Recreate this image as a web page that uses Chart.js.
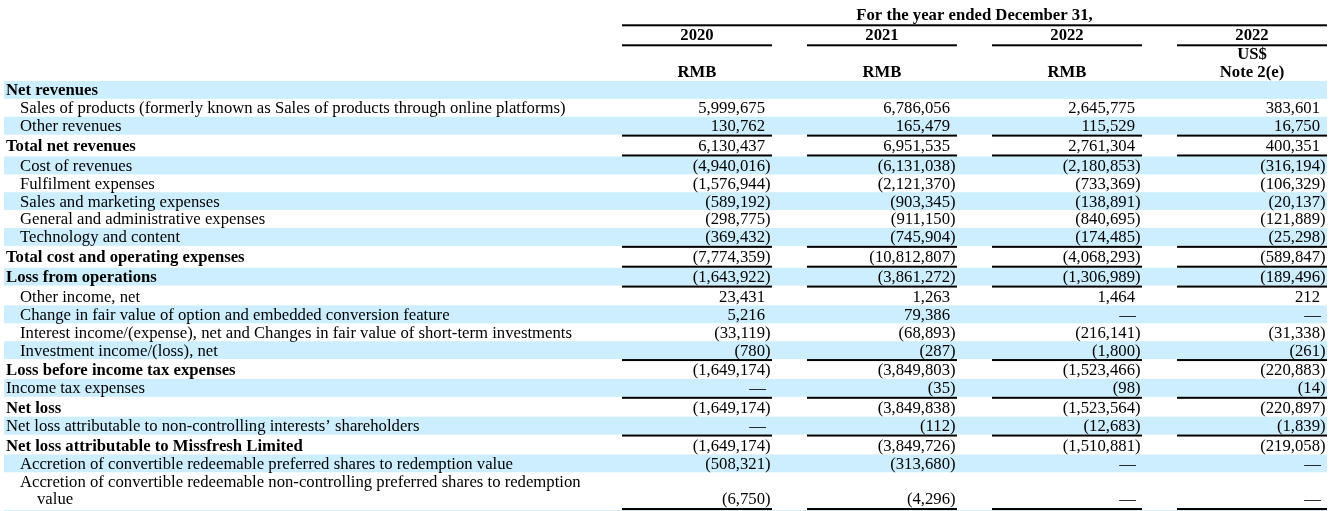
<!DOCTYPE html>
<html>
<head>
<meta charset="utf-8">
<script src="https://cdn.jsdelivr.net/npm/chart.js@4"></script>
<style>
  body { margin: 0; background: #fff; }
  canvas { display: block; }
</style>
</head>
<body>
<canvas id="table" width="1336" height="511"></canvas>
<script>
// Consolidated statements of operations (in thousands)
// 0 is shown as a dash, null means the cell is empty
const rowLabels = [
    'Net revenues',
    'Sales of products (formerly known as Sales of products through online platforms)',
    'Other revenues',
    'Total net revenues',
    'Cost of revenues',
    'Fulfilment expenses',
    'Sales and marketing expenses',
    'General and administrative expenses',
    'Technology and content',
    'Total cost and operating expenses',
    'Loss from operations',
    'Other income, net',
    'Change in fair value of option and embedded conversion feature',
    'Interest income/(expense), net and Changes in fair value of short-term investments',
    'Investment income/(loss), net',
    'Loss before income tax expenses',
    'Income tax expenses',
    'Net loss',
    'Net loss attributable to non-controlling interests\u2019 shareholders',
    'Net loss attributable to Missfresh Limited',
    'Accretion of convertible redeemable preferred shares to redemption value',
    ['Accretion of convertible redeemable non-controlling preferred shares to redemption', 'value']
];

const columnYears = ['2020', '2021', '2022', '2022'];
const columnCurrency = ['RMB', 'RMB', 'RMB', 'Note 2(e)'];
const columnNote = ['', '', '', 'US$'];
const headerTitle = 'For the year ended December 31,';

const values2020 = [null, 5999675, 130762, 6130437, -4940016, -1576944, -589192, -298775, -369432,
    -7774359, -1643922, 23431, 5216, -33119, -780, -1649174, 0, -1649174, 0, -1649174, -508321, -6750];
const values2021 = [null, 6786056, 165479, 6951535, -6131038, -2121370, -903345, -911150, -745904,
    -10812807, -3861272, 1263, 79386, -68893, -287, -3849803, -35, -3849838, -112, -3849726, -313680, -4296];
const values2022 = [null, 2645775, 115529, 2761304, -2180853, -733369, -138891, -840695, -174485,
    -4068293, -1306989, 1464, 0, -216141, -1800, -1523466, -98, -1523564, -12683, -1510881, 0, 0];
const values2022Usd = [null, 383601, 16750, 400351, -316194, -106329, -20137, -121889, -25298,
    -589847, -189496, 212, 0, -31338, -261, -220883, -14, -220897, -1839, -219058, 0, 0];

const columns = [values2020, values2021, values2022, values2022Usd];

// row styling: 'head' = bold flush left, 'item' = indented, 'plain' = flush left regular
const rowKinds = ['head', 'item', 'item', 'head', 'item', 'item', 'item', 'item', 'item', 'head', 'head',
    'item', 'item', 'item', 'item', 'head', 'plain', 'head', 'plain', 'head', 'item', 'item'];
// rows with a rule under their figures
const ruledRows = [2, 3, 8, 9, 10, 14, 16, 18, 21];

// layout
const FONT = "'Liberation Serif', 'Times New Roman', serif";
const FONT_SIZE = 16.7;
const TEXT_DY = 1;            // nudge text down a pixel to sit centred in its band
const BAND = '#cceeff';
const RULE = 0.112;           // rule height in line units (~2px)
const LINE_PX = 17.87;
const HEADER_H = 81;

const lineCount = rowLabels.map(l => Array.isArray(l) ? l.length : 1);
const rowTop = [];
let acc = 0;
rowLabels.forEach((l, i) => {
    rowTop.push(acc);
    acc += lineCount[i] + (ruledRows.includes(i) ? RULE : 0);
});
const yMax = (511 - HEADER_H) / LINE_PX;

function fmt(n) {
    return Math.abs(n).toLocaleString('en-US');
}

function colEdges(x, i) {
    const left = x.getPixelForValue(i);
    const right = x.getPixelForValue(i + 1);
    return { lineLeft: left + 26, lineRight: right - 9, numRight: right - 16 };
}

const tablePlugin = {
    id: 'financialTable',
    beforeDatasetsDraw(chart) {
        const { ctx, scales: { x, y } } = chart;
        const tableRight = colEdges(x, 3).lineRight;
        ctx.save();

        // alternating row bands
        ctx.fillStyle = BAND;
        rowLabels.forEach((l, i) => {
            if (i % 2 !== 0) return;
            const top = y.getPixelForValue(rowTop[i]);
            const bot = y.getPixelForValue(rowTop[i] + lineCount[i]);
            ctx.fillRect(4, top, tableRight - 4, bot - top);
        });
        // next (shaded) row peeking at the bottom
        ctx.fillRect(4, y.getPixelForValue(acc), tableRight - 4, y.getPixelForValue(yMax) - y.getPixelForValue(acc));

        // rules under figures
        ctx.fillStyle = '#000';
        ruledRows.forEach(i => {
            const top = y.getPixelForValue(rowTop[i] + lineCount[i]);
            const bot = y.getPixelForValue(rowTop[i] + lineCount[i] + RULE);
            for (let c = 0; c < columns.length; c++) {
                const e = colEdges(x, c);
                ctx.fillRect(e.lineLeft, top, e.lineRight - e.lineLeft, bot - top);
            }
        });

        // row labels
        ctx.textBaseline = 'middle';
        ctx.textAlign = 'left';
        rowLabels.forEach((l, i) => {
            const kind = rowKinds[i];
            ctx.font = (kind === 'head' ? 'bold ' : '') + FONT_SIZE + 'px ' + FONT;
            const indent = kind === 'item' ? 20 : 6;
            const lines = Array.isArray(l) ? l : [l];
            lines.forEach((t, k) => {
                const ty = y.getPixelForValue(rowTop[i] + k + 0.5) + TEXT_DY;
                ctx.fillText(t, k === 0 ? indent : indent + 17, ty);
            });
        });

        // column header
        ctx.font = 'bold ' + FONT_SIZE + 'px ' + FONT;
        ctx.textAlign = 'center';
        const first = colEdges(x, 0), last = colEdges(x, 3);
        ctx.fillText(headerTitle, (first.lineLeft + last.lineRight) / 2, 15 + TEXT_DY);
        ctx.fillRect(first.lineLeft, 24.3, last.lineRight - first.lineLeft, 2);
        columnYears.forEach((yr, c) => {
            const e = colEdges(x, c);
            const cx = (e.lineLeft + e.lineRight) / 2;
            ctx.fillText(yr, cx, 35 + TEXT_DY);
            ctx.fillRect(e.lineLeft, 44.3, e.lineRight - e.lineLeft, 2);
            if (columnNote[c]) ctx.fillText(columnNote[c], cx, 54 + TEXT_DY);
            ctx.fillText(columnCurrency[c], cx, 72 + TEXT_DY);
        });
        ctx.restore();
    },
    afterDatasetsDraw(chart) {
        const { ctx } = chart;
        ctx.save();
        ctx.font = FONT_SIZE + 'px ' + FONT;
        ctx.fillStyle = '#000';
        ctx.textBaseline = 'middle';
        chart.data.datasets.forEach((ds, d) => {
            const meta = chart.getDatasetMeta(d);
            meta.data.forEach((pt, i) => {
                const v = columns[d][i];
                if (v === null) return;
                const xr = pt.x - 16;
                const ty = pt.y + TEXT_DY;
                if (v === 0) {
                    ctx.textAlign = 'right';
                    ctx.fillText('\u2014', xr + 1, ty);
                } else if (v < 0) {
                    ctx.textAlign = 'right';
                    ctx.fillText('(' + fmt(v), xr, ty);
                    ctx.textAlign = 'left';
                    ctx.fillText(')', xr, ty);
                } else {
                    ctx.textAlign = 'right';
                    ctx.fillText(fmt(v), xr, ty);
                }
            });
        });
        ctx.restore();
    }
};

new Chart(document.getElementById('table'), {
    type: 'scatter',
    data: {
        datasets: columns.map((vals, c) => ({
            label: columnYears[c] + ' ' + columnCurrency[c],
            data: vals.map((v, i) => ({ x: c + 1, y: rowTop[i] + lineCount[i] - 0.5 })),
            pointRadius: 0
        }))
    },
    options: {
        responsive: false,
        animation: false,
        events: [],
        layout: { padding: { top: HEADER_H, left: 596, right: 0, bottom: 0 } },
        plugins: { legend: { display: false }, tooltip: { enabled: false } },
        scales: {
            x: { type: 'linear', min: 0, max: 4, display: false },
            y: { type: 'linear', min: 0, max: yMax, reverse: true, display: false }
        }
    },
    plugins: [tablePlugin]
});
</script>
</body>
</html>
